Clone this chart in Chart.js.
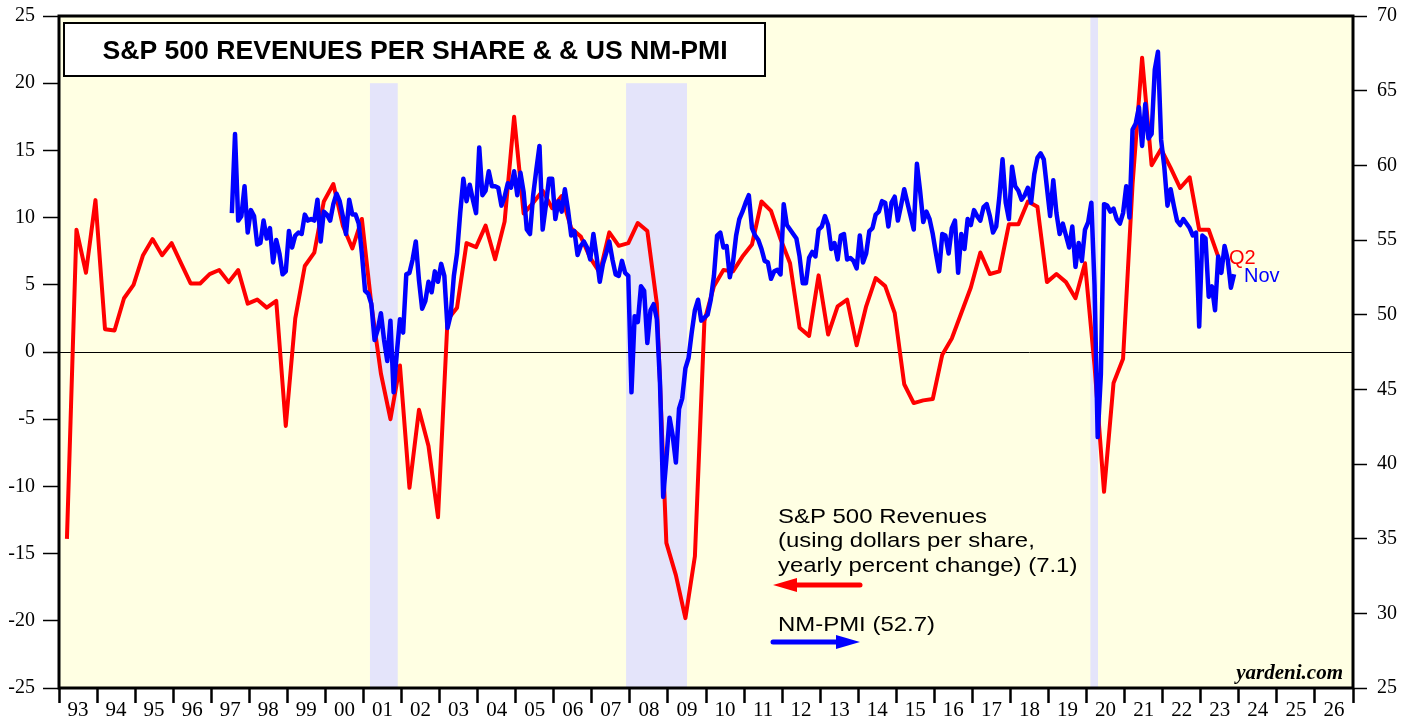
<!DOCTYPE html>
<html>
<head>
<meta charset="utf-8">
<title>S&amp;P 500 Revenues per Share &amp; US NM-PMI</title>
<script src="https://cdn.jsdelivr.net/npm/chart.js@4.4.0/dist/chart.umd.min.js"></script>
<style>
  html, body { margin: 0; padding: 0; background: #fff; }
</style>
</head>
<body>
<canvas id="myChart" width="1413" height="719"></canvas>
<script>
// S&P 500 revenues per share, y/y % change, quarterly from 1993 Q1
var revStartYear = 1993;
var revenues = [
  -13.9, 9.1, 5.9, 11.3,
  1.7, 1.6, 4.0, 5.0,
  7.2, 8.4, 7.2, 8.1,
  6.6, 5.1, 5.1, 5.8,
  6.1, 5.2, 6.1, 3.6,
  3.9, 3.3, 3.8, -5.5,
  2.5, 6.4, 7.4, 11.2,
  12.5, 9.4, 7.7, 9.9,
  3.5, -1.6, -5.0, -1.0,
  -10.1, -4.3, -7.0, -12.3,
  2.4, 3.3, 8.1, 7.8,
  9.4, 6.9, 9.7, 17.5,
  10.3, 11.1, 12.0, 10.7,
  11.6, 9.2, 8.6, 7.0,
  5.9, 8.9, 7.9, 8.1,
  9.6, 9.0, 3.6, -14.2,
  -16.6, -19.8, -15.2, 2.3,
  4.9, 6.1, 6.0, 7.1,
  8.0, 11.2, 10.5, 8.4,
  6.6, 1.8, 1.2, 5.7,
  1.3, 3.4, 3.9, 0.5,
  3.4, 5.5, 4.9, 2.9,
  -2.4, -3.8, -3.6, -3.5,
  -0.2, 1.0, 2.9, 4.8,
  7.4, 5.8, 6.0, 9.5,
  9.5, 11.2, 10.8, 5.2,
  5.8, 5.2, 4.0, 6.6,
  -1.0, -10.4, -2.3, -0.5,
  12.5, 21.9, 13.9, 15.1,
  13.7, 12.2, 13.0, 9.1,
  9.1, 7.1
];

// US non-manufacturing PMI, monthly from July 1997
var pmiStartYear = 1997;
var pmiStartMonth = 6;
var pmi = [
  56.8, 62.1, 56.3, 56.6, 58.6, 55.5,
  57.0, 56.6, 54.7, 54.8, 56.3, 55.1, 55.8, 53.5, 55.0, 54.1, 52.7, 52.9,
  55.6, 54.5, 55.3, 55.5, 55.4, 56.7, 56.3, 56.4, 56.3, 57.7, 54.9, 56.9,
  56.7, 56.3, 57.4, 58.1, 57.6, 56.6, 55.4, 57.7, 56.7, 56.7, 56.1, 54.1,
  51.6, 51.4, 50.7, 48.3, 49.0, 50.1, 48.3, 46.9, 49.6, 44.8, 47.4, 49.7,
  48.8, 52.7, 52.8, 53.7, 54.9, 52.3, 50.4, 50.9, 52.2, 51.5, 52.9, 52.2,
  53.4, 52.6, 49.1, 50.0, 52.6, 54.1, 56.8, 59.1, 57.6, 58.7, 57.7, 56.8,
  61.2, 58.0, 58.3, 59.6, 58.6, 58.6, 58.5, 57.3, 57.9, 58.8, 58.5, 59.6,
  58.0, 59.5, 58.2, 55.7, 55.4, 58.0, 59.7, 61.3, 55.7, 57.3, 59.1, 59.1,
  56.4, 57.6, 56.9, 58.4, 57.0, 55.3, 55.6, 54.0, 54.6, 54.9, 54.5, 53.7,
  55.4, 53.9, 52.2, 53.4, 54.1, 54.9, 53.7, 52.7, 52.6, 53.6, 52.8, 52.6,
  44.8, 49.9, 49.5, 51.9, 51.6, 48.1, 50.3, 50.7, 49.7, 45.4, 37.8, 40.3,
  43.1, 41.9, 40.1, 43.7, 44.4, 46.4, 47.1, 48.8, 50.3, 51.0, 49.6, 49.8,
  50.0, 51.0, 52.6, 55.3, 55.5, 54.5, 54.6, 52.5, 53.5, 55.3, 56.4, 56.9,
  57.5, 58.0, 55.8, 55.3, 55.0, 54.4, 53.6, 53.5, 52.4, 52.9, 53.0, 52.7,
  57.4, 56.0, 55.7, 55.4, 55.1, 53.9, 52.1, 52.1, 53.8, 54.2, 53.9, 55.7,
  55.9, 56.6, 56.0, 54.4, 54.8, 53.7, 55.3, 55.4, 53.7, 53.8, 53.6, 53.1,
  55.3, 53.5, 54.1, 55.6, 55.8, 56.7, 56.9, 57.6, 57.5, 55.9, 57.5, 57.9,
  56.3, 57.3, 58.4, 57.5, 56.6, 55.7, 60.1, 58.3, 56.2, 56.9, 56.4, 55.4,
  54.1, 52.9, 55.4, 55.3, 54.1, 55.8, 56.3, 52.8, 55.4, 54.4, 56.4, 56.0,
  57.0, 56.6, 56.3, 57.2, 57.4, 56.6, 55.5, 55.9, 57.9, 60.4, 57.5, 56.4,
  59.9, 58.6, 58.3, 57.7, 58.0, 58.5, 57.5, 59.4, 60.5, 60.8, 60.4, 58.5,
  56.6, 59.0, 56.8, 55.4, 56.1, 55.3, 54.5, 55.9, 53.2, 54.8, 53.6, 55.7,
  56.2, 57.5, 52.0, 41.8, 46.0, 57.4, 57.3, 56.9, 57.1, 56.4, 56.1, 56.8,
  58.6, 56.5, 62.4, 62.8, 63.9, 61.3, 64.1, 61.8, 62.1, 66.4, 67.6, 61.7,
  59.9, 57.3, 58.4, 57.3, 56.3, 56.0, 56.4, 56.1, 55.8, 55.3, 55.5, 49.2,
  55.3, 55.1, 51.2, 51.9, 50.3, 53.9, 52.8, 54.6, 53.7, 51.8, 52.7
];

var yearLabels = ['93','94','95','96','97','98','99','00','01','02','03','04','05','06','07','08','09',
                  '10','11','12','13','14','15','16','17','18','19','20','21','22','23','24','25','26'];
var firstYear = 1993;

// recessions (decimal years) and the left-axis level the shading reaches
var recessionStart = [2001.17, 2007.9, 2020.1];
var recessionEnd   = [2001.9, 2009.5, 2020.3];
var recessionTop   = [20, 20, 25];

var revPoints = revenues.map((v, i) => ({ x: revStartYear + (i * 3 + 2.5) / 12, y: v }));
var pmiPoints = pmi.map((v, i) => ({ x: pmiStartYear + (pmiStartMonth + i + 0.5) / 12, y: v }));
var yearTicks = yearLabels.map((l, i) => firstYear + i).concat([firstYear + yearLabels.length]);

var SANS = '"Liberation Sans", Arial, sans-serif';
var SERIF = '"Liberation Serif", "Times New Roman", serif';

const backdrop = {
  id: 'backdrop',
  beforeDraw(chart) {
    const { ctx, chartArea: a, scales } = chart;
    ctx.save();
    ctx.fillStyle = '#ffffe3';
    ctx.fillRect(a.left, a.top, a.right - a.left, a.bottom - a.top);
    ctx.fillStyle = '#e4e4fa';
    recessionStart.forEach((s, i) => {
      const x0 = scales.x.getPixelForValue(s);
      const x1 = scales.x.getPixelForValue(recessionEnd[i]);
      const yt = scales.y.getPixelForValue(recessionTop[i]);
      ctx.fillRect(x0, yt, x1 - x0, a.bottom - yt);
    });
    ctx.restore();
  }
};

function wideText(ctx, text, x, y, sx) {
  ctx.save();
  ctx.translate(x, y);
  ctx.scale(sx, 1);
  ctx.fillText(text, 0, 0);
  ctx.restore();
}

function arrow(ctx, color, x0, x1, y, tipLeft) {
  ctx.save();
  ctx.strokeStyle = color;
  ctx.fillStyle = color;
  ctx.lineWidth = 5;
  ctx.lineCap = 'round';
  const head = 24;
  ctx.beginPath();
  if (tipLeft) { ctx.moveTo(x0 + head - 2, y); ctx.lineTo(x1, y); }
  else { ctx.moveTo(x0, y); ctx.lineTo(x1 - head + 2, y); }
  ctx.stroke();
  ctx.beginPath();
  if (tipLeft) { ctx.moveTo(x0, y); ctx.lineTo(x0 + head, y - 7); ctx.lineTo(x0 + head, y + 7); }
  else { ctx.moveTo(x1, y); ctx.lineTo(x1 - head, y - 7); ctx.lineTo(x1 - head, y + 7); }
  ctx.closePath();
  ctx.fill();
  ctx.restore();
}

const overlay = {
  id: 'overlay',
  afterDraw(chart) {
    const { ctx, chartArea: a } = chart;
    ctx.save();
    // frame
    ctx.strokeStyle = '#000';
    ctx.lineWidth = 3;
    ctx.strokeRect(a.left, a.top, a.right - a.left, a.bottom - a.top);

    // title box
    ctx.fillStyle = '#fff';
    ctx.fillRect(64, 23, 701, 53);
    ctx.lineWidth = 2;
    ctx.strokeRect(64, 23, 701, 53);
    ctx.fillStyle = '#000';
    ctx.font = 'bold 26.6px ' + SANS;
    ctx.textAlign = 'center';
    ctx.textBaseline = 'alphabetic';
    ctx.fillText('S&P 500 REVENUES PER SHARE & & US NM-PMI', 415, 59);

    // legend notes
    ctx.textAlign = 'left';
    ctx.font = '21px ' + SANS;
    ctx.fillStyle = '#000';
    wideText(ctx, 'S&P 500 Revenues', 778, 523, 1.14);
    wideText(ctx, '(using dollars per share,', 778, 547, 1.14);
    wideText(ctx, 'yearly percent change) (7.1)', 778, 572, 1.14);
    wideText(ctx, 'NM-PMI (52.7)', 778, 631, 1.14);
    arrow(ctx, '#ff0000', 773, 860, 585, true);
    arrow(ctx, '#0000ff', 773, 860, 642, false);

    // end-of-series labels
    ctx.font = '20px ' + SANS;
    ctx.fillStyle = '#ff0000';
    ctx.fillText('Q2', 1229, 264);
    ctx.fillStyle = '#0000ff';
    ctx.fillText('Nov', 1244, 282);

    // source
    ctx.fillStyle = '#000';
    ctx.font = 'italic bold 21px ' + SERIF;
    ctx.textAlign = 'right';
    ctx.fillText('yardeni.com', 1343, 679);
    ctx.restore();
  }
};

function fixVertical(width) {
  return s => { s.width = width; s.paddingTop = 0; s.paddingBottom = 0; };
}

const ctx = document.getElementById('myChart');

new Chart(ctx, {
  type: 'line',
  data: {
    datasets: [
      {
        label: 'NM-PMI',
        data: pmiPoints,
        yAxisID: 'y2',
        borderColor: '#0000ff',
        borderWidth: 4.5,
        borderJoinStyle: 'round',
        pointRadius: 0,
        tension: 0,
        order: 0
      },
      {
        label: 'S&P 500 Revenues',
        data: revPoints,
        yAxisID: 'y',
        borderColor: '#ff0000',
        borderWidth: 4,
        borderJoinStyle: 'round',
        pointRadius: 0,
        tension: 0,
        order: 1
      }
    ]
  },
  options: {
    responsive: false,
    animation: false,
    events: [],
    layout: { padding: { top: 16, left: 0, right: 0, bottom: 0 } },
    plugins: {
      legend: { display: false },
      tooltip: { enabled: false }
    },
    scales: {
      x: {
        type: 'linear',
        position: 'bottom',
        min: 1993,
        max: 2027,
        afterBuildTicks: s => { s.ticks = yearTicks.map(v => ({ value: v })); },
        afterFit: s => { s.height = 31; s.paddingLeft = 0; s.paddingRight = 0; },
        ticks: {
          autoSkip: false,
          maxRotation: 0,
          minRotation: 0,
          labelOffset: 19,
          padding: -5,
          color: '#000',
          font: { family: SERIF, size: 21 },
          callback: (v, i) => yearLabels[i] || ''
        },
        grid: { drawOnChartArea: false, tickLength: 15, tickWidth: 2.5, tickColor: '#000' },
        border: { display: false }
      },
      y: {
        position: 'left',
        min: -25,
        max: 25,
        afterFit: fixVertical(59),
        ticks: {
          stepSize: 5,
          padding: 8,
          color: '#000',
          font: { family: SERIF, size: 20 },
          callback: v => String(v)
        },
        grid: {
          color: c => (c.tick && c.tick.value === 0) ? '#000' : 'rgba(0,0,0,0)',
          lineWidth: 1,
          tickLength: 16,
          tickWidth: 1.5,
          tickColor: '#000'
        },
        border: { display: false }
      },
      y2: {
        position: 'right',
        min: 25,
        max: 70,
        afterFit: fixVertical(60),
        ticks: {
          stepSize: 5,
          padding: 10,
          color: '#000',
          font: { family: SERIF, size: 20 },
          callback: v => String(v)
        },
        grid: { drawOnChartArea: false, tickLength: 14, tickWidth: 1.5, tickColor: '#000' },
        border: { display: false }
      }
    }
  },
  plugins: [backdrop, overlay]
});
</script>
</body>
</html>
